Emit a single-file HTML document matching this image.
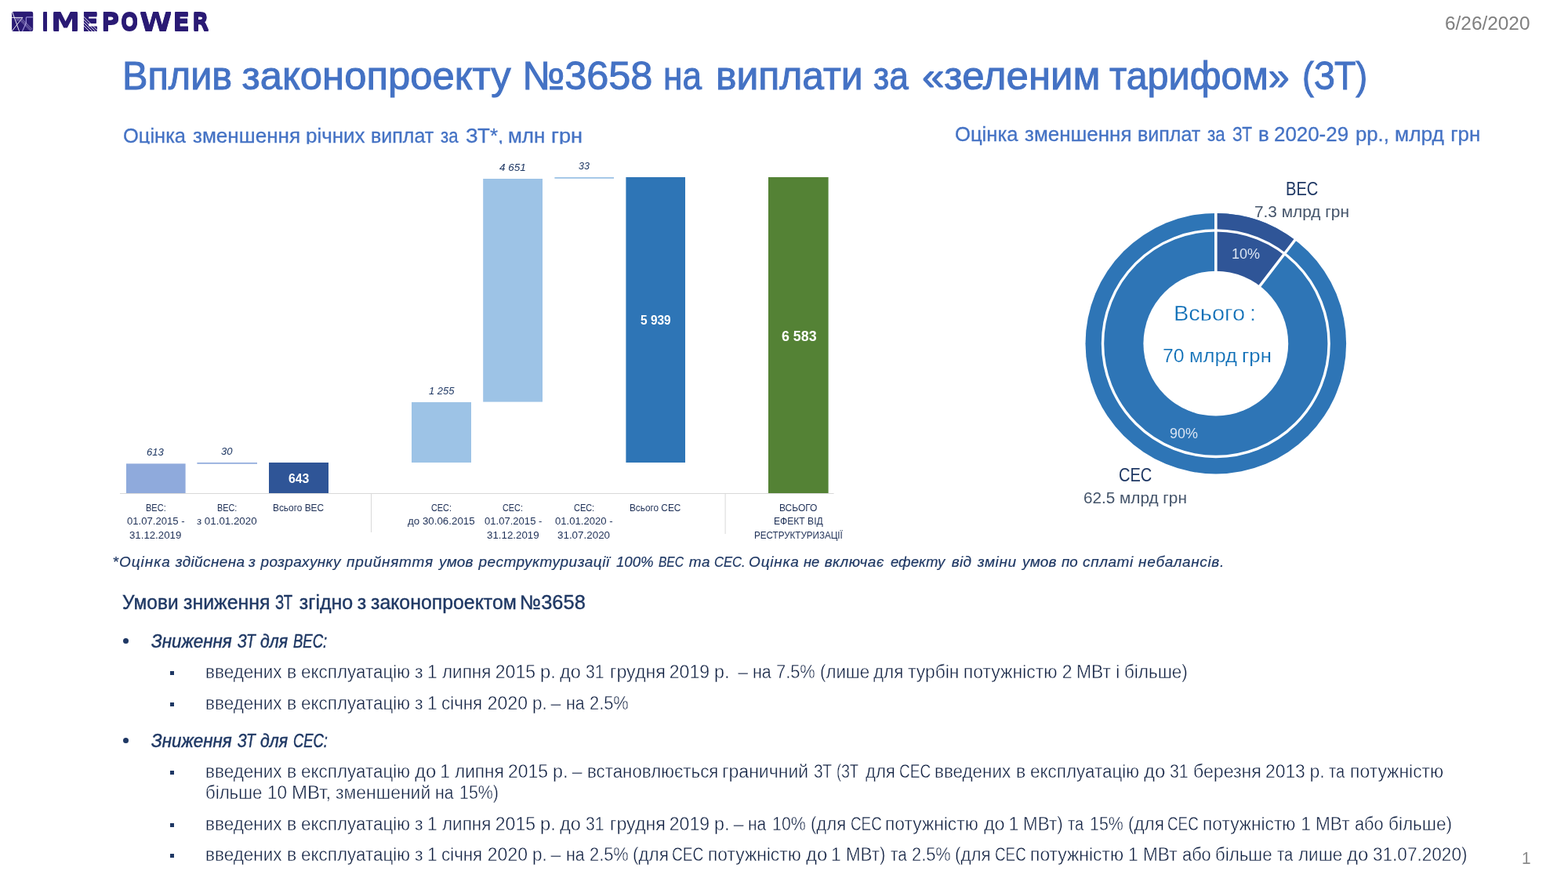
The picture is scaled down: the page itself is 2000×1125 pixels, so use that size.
<!DOCTYPE html>
<html lang="uk">
<head>
<meta charset="utf-8">
<title>Вплив законопроекту №3658 на виплати за «зеленим тарифом» (ЗТ)</title>
<style>
html,body{margin:0;padding:0;background:#fff;}
body{width:2000px;height:1125px;position:relative;overflow:hidden;font-family:"Liberation Sans",sans-serif;}
.t{position:absolute;white-space:pre;transform-origin:0 0;display:block;}
.r{position:absolute;display:block;}
h1,h2,h3,p,section,header,footer,div{margin:0;padding:0;font:inherit;}
svg{position:absolute;left:0;top:0;}
</style>
</head>
<body>
<!-- chart + donut shapes -->
<svg width="2000" height="1125" viewBox="0 0 2000 1125">
  <!-- logo mark -->
  <g>
    <rect x="15.1" y="14.7" width="27.1" height="25.3" rx="2.2" fill="#2a1a74"/>
    <g fill="none" stroke-linecap="butt">
      <g stroke="#fff" stroke-width="0.9">
        <path d="M15.6 14.9 L24.6 39.9"/>
        <path d="M15.1 22.4 H28.9"/>
        <path d="M28.9 22.3 L15.6 39.2"/>
      </g>
      <path d="M41.9 21.9 H34.2 Q33.3 21.9 33.3 22.8 V29.3 L28.4 39.9" stroke="#9a8fd8" stroke-width="1.2"/>
      <g stroke="#cfc8f0" stroke-width="0.45">
        <path d="M27.6 23.4 L41.4 37.2 M26.8 24.2 L40.6 38 M26 25 L39.8 38.8 M25.2 25.8 L39 39.6"/>
        <path d="M20 23.6 H26.5 M20.4 24.8 H25.6 M20.8 26 H24.7"/>
      </g>
    </g>
  </g>
  <!-- bars -->
  <rect x="161" y="591.4" width="75.6" height="37.8" fill="#8faadc"/>
  <rect x="251.4" y="590" width="76.6" height="1.7" fill="#8faadc"/>
  <rect x="343" y="590" width="76" height="39.2" fill="#2f5597"/>
  <rect x="525" y="513" width="76" height="77" fill="#9dc3e6"/>
  <rect x="616.2" y="228" width="75.8" height="284.6" fill="#9dc3e6"/>
  <rect x="707.4" y="226" width="75.6" height="1.8" fill="#9dc3e6"/>
  <rect x="798.4" y="226" width="75.6" height="364" fill="#2e75b6"/>
  <rect x="980" y="226" width="76.6" height="403.2" fill="#548235"/>
  <!-- axis -->
  <rect x="153" y="629" width="910.6" height="1" fill="#d9d9d9"/>
  <rect x="473" y="629.5" width="1" height="49.5" fill="#d9d9d9"/>
  <rect x="924.6" y="629.5" width="1" height="51.5" fill="#d9d9d9"/>
  <!-- donut -->
  <g transform="translate(1550.8 438.2)">
    <circle r="166.3" fill="#2e75b6"/>
    <path d="M0 0 L0 -166.3 A166.3 166.3 0 0 1 101.01 -132.11 Z" fill="#2f5597"/>
    <circle r="144.3" fill="none" stroke="#fff" stroke-width="3.4"/>
    <path d="M0 0 L0 -168 M0 0 L102.04 -133.46" stroke="#fff" stroke-width="3.6" fill="none"/>
    <circle r="92.4" fill="#fff"/>
  </g>
</svg>
<header><div class="logo"><span class="t lg" style="left:53.38px;top:9.40px;font-size:32.4px;line-height:38.00px;color:#2a1a74;font-family:'DejaVu Sans', sans-serif;font-weight:bold;transform:scaleX(0.7625);text-shadow:0 1px 0 #2a1a74,0 -1px 0 #2a1a74">I</span><span class="t lg" style="left:65.20px;top:9.40px;font-size:32.4px;line-height:38.00px;color:#2a1a74;font-family:'DejaVu Sans', sans-serif;font-weight:bold;transform:scaleX(1.1518);text-shadow:0 1px 0 #2a1a74,0 -1px 0 #2a1a74">M</span><span class="t lg" style="left:104.00px;top:9.40px;font-size:32.4px;line-height:38.00px;color:#2a1a74;font-family:'DejaVu Sans', sans-serif;font-weight:bold;text-shadow:0 1px 0 #2a1a74,0 -1px 0 #2a1a74">E</span><span class="t lg" style="left:128.78px;top:9.40px;font-size:32.4px;line-height:38.00px;color:#2a1a74;font-family:'DejaVu Sans', sans-serif;font-weight:bold;transform:scaleX(0.9833);text-shadow:0 1px 0 #2a1a74,0 -1px 0 #2a1a74">P</span><span class="t lg" style="left:154.29px;top:9.40px;font-size:32.4px;line-height:38.00px;color:#2a1a74;font-family:'DejaVu Sans', sans-serif;font-weight:bold;transform:scaleX(0.8120);text-shadow:0 1px 0 #2a1a74,0 -1px 0 #2a1a74">O</span><span class="t lg" style="left:178.40px;top:9.40px;font-size:32.4px;line-height:38.00px;color:#2a1a74;font-family:'DejaVu Sans', sans-serif;font-weight:bold;transform:scaleX(1.1571);text-shadow:0 1px 0 #2a1a74,0 -1px 0 #2a1a74">W</span><span class="t lg" style="left:220.30px;top:9.40px;font-size:32.4px;line-height:38.00px;color:#2a1a74;font-family:'DejaVu Sans', sans-serif;font-weight:bold;text-shadow:0 1px 0 #2a1a74,0 -1px 0 #2a1a74">E</span><span class="t lg" style="left:245.27px;top:9.40px;font-size:32.4px;line-height:38.00px;color:#2a1a74;font-family:'DejaVu Sans', sans-serif;font-weight:bold;transform:scaleX(0.8652);text-shadow:0 1px 0 #2a1a74,0 -1px 0 #2a1a74">R</span></div><div class="date"><span class="t" style="left:1843.45px;top:17.00px;font-size:23.3px;line-height:26.00px;color:#7f7f7f;transform:scaleX(1.0469)">6/26/2020</span></div></header>
<h1 class="title"><span class="t" style="left:155.67px;top:68.20px;font-size:50.8px;line-height:57.00px;color:#4472c4;-webkit-text-stroke:1px #4472c4;transform:scaleX(0.9572)">Вплив </span><span class="t" style="left:308.50px;top:68.20px;font-size:50.8px;line-height:57.00px;color:#4472c4;-webkit-text-stroke:1px #4472c4">законопроекту </span><span class="t" style="left:665.93px;top:68.20px;font-size:50.8px;line-height:57.00px;color:#4472c4;-webkit-text-stroke:1px #4472c4;transform:scaleX(0.9936)">№3658 </span><span class="t" style="left:846.49px;top:68.20px;font-size:50.8px;line-height:57.00px;color:#4472c4;-webkit-text-stroke:1px #4472c4;transform:scaleX(0.8695)">на </span><span class="t" style="left:913.16px;top:68.20px;font-size:50.8px;line-height:57.00px;color:#4472c4;-webkit-text-stroke:1px #4472c4;transform:scaleX(0.9810)">виплати </span><span class="t" style="left:1114.03px;top:68.20px;font-size:50.8px;line-height:57.00px;color:#4472c4;-webkit-text-stroke:1px #4472c4;transform:scaleX(0.8696)">за </span><span class="t" style="left:1176.49px;top:68.20px;font-size:50.8px;line-height:57.00px;color:#4472c4;-webkit-text-stroke:1px #4472c4;transform:scaleX(1.0034)">«зеленим </span><span class="t" style="left:1414.90px;top:68.20px;font-size:50.8px;line-height:57.00px;color:#4472c4;-webkit-text-stroke:1px #4472c4;transform:scaleX(0.9543)">тарифом» </span><span class="t" style="left:1660.86px;top:68.20px;font-size:50.8px;line-height:57.00px;color:#4472c4;-webkit-text-stroke:1px #4472c4;transform:scaleX(0.8813)">(ЗТ)</span></h1>
<section class="chart"><h2 class="chart-title"><span class="t" style="left:157.16px;top:159.30px;font-size:25.8px;line-height:28.00px;color:#4472c4;-webkit-text-stroke:0.3px #4472c4;transform:scaleX(0.9880);clip-path:inset(0 0 3.5px 0)">Оцінка </span><span class="t" style="left:245.75px;top:159.30px;font-size:25.8px;line-height:28.00px;color:#4472c4;-webkit-text-stroke:0.3px #4472c4;transform:scaleX(1.0105);clip-path:inset(0 0 3.5px 0)">зменшення </span><span class="t" style="left:389.74px;top:159.30px;font-size:25.8px;line-height:28.00px;color:#4472c4;-webkit-text-stroke:0.3px #4472c4;transform:scaleX(1.0071);clip-path:inset(0 0 3.5px 0)">річних </span><span class="t" style="left:472.78px;top:159.30px;font-size:25.8px;line-height:28.00px;color:#4472c4;-webkit-text-stroke:0.3px #4472c4;transform:scaleX(0.9705);clip-path:inset(0 0 3.5px 0)">виплат </span><span class="t" style="left:561.75px;top:159.30px;font-size:25.8px;line-height:28.00px;color:#4472c4;-webkit-text-stroke:0.3px #4472c4;transform:scaleX(0.8610);clip-path:inset(0 0 3.5px 0)">за </span><span class="t" style="left:593.75px;top:159.30px;font-size:25.8px;line-height:28.00px;color:#4472c4;-webkit-text-stroke:0.3px #4472c4;transform:scaleX(1.0063);clip-path:inset(0 0 3.5px 0)">ЗТ*, </span><span class="t" style="left:648.14px;top:159.30px;font-size:25.8px;line-height:28.00px;color:#4472c4;-webkit-text-stroke:0.3px #4472c4;transform:scaleX(1.0070);clip-path:inset(0 0 3.5px 0)">млн </span><span class="t" style="left:703.10px;top:159.30px;font-size:25.8px;line-height:28.00px;color:#4472c4;-webkit-text-stroke:0.3px #4472c4;transform:scaleX(1.0544);clip-path:inset(0 0 3.5px 0)">грн</span></h2><div class="bar-values"><span class="t" style="left:187.00px;top:569.00px;font-size:13.4px;line-height:15.00px;color:#1f3864;font-style:italic;transform:scaleX(0.9784)">613</span><span class="t" style="left:282.40px;top:568.00px;font-size:13.4px;line-height:15.00px;color:#1f3864;font-style:italic;transform:scaleX(0.9710)">30</span><span class="t" style="left:546.50px;top:491.00px;font-size:13.4px;line-height:15.00px;color:#1f3864;font-style:italic;transform:scaleX(0.9688)">1 255</span><span class="t" style="left:636.60px;top:206.00px;font-size:13.4px;line-height:15.00px;color:#1f3864;font-style:italic;transform:scaleX(1.0102)">4 651</span><span class="t" style="left:738.00px;top:204.00px;font-size:13.4px;line-height:15.00px;color:#1f3864;font-style:italic;transform:scaleX(0.9322)">33</span><span class="t" style="left:367.80px;top:601.00px;font-size:16.8px;line-height:19.00px;color:#ffffff;font-weight:bold;transform:scaleX(0.9398)">643</span><span class="t" style="left:816.90px;top:399.30px;font-size:16.8px;line-height:19.00px;color:#ffffff;font-weight:bold;transform:scaleX(0.9217)">5 939</span><span class="t" style="left:996.70px;top:418.00px;font-size:18.6px;line-height:21.00px;color:#ffffff;font-weight:bold;transform:scaleX(0.9569)">6 583</span></div><div class="bar-categories"><span class="t" style="left:186.00px;top:641.00px;font-size:12px;line-height:14.00px;color:#1d2f56;transform:scaleX(0.9178)">ВЕС:</span><span class="t" style="left:162.40px;top:658.40px;font-size:12px;line-height:14.00px;color:#1d2f56;transform:scaleX(1.0921)">01.07.2015 -</span><span class="t" style="left:165.40px;top:676.00px;font-size:12px;line-height:14.00px;color:#1d2f56;transform:scaleX(1.1029)">31.12.2019</span><span class="t" style="left:277.00px;top:641.00px;font-size:12px;line-height:14.00px;color:#1d2f56;transform:scaleX(0.9034)">ВЕС:</span><span class="t" style="left:251.00px;top:658.40px;font-size:12px;line-height:14.00px;color:#1d2f56;transform:scaleX(1.1124)">з 01.01.2020</span><span class="t" style="left:348.00px;top:641.00px;font-size:12px;line-height:14.00px;color:#1d2f56;transform:scaleX(0.9900)">Всього ВЕС</span><span class="t" style="left:550.00px;top:641.00px;font-size:12px;line-height:14.00px;color:#1d2f56;transform:scaleX(0.9034)">СЕС:</span><span class="t" style="left:520.00px;top:658.40px;font-size:12px;line-height:14.00px;color:#1d2f56;transform:scaleX(1.1112)">до 30.06.2015</span><span class="t" style="left:641.00px;top:641.00px;font-size:12px;line-height:14.00px;color:#1d2f56;transform:scaleX(0.9034)">СЕС:</span><span class="t" style="left:617.60px;top:658.40px;font-size:12px;line-height:14.00px;color:#1d2f56;transform:scaleX(1.0891)">01.07.2015 -</span><span class="t" style="left:620.60px;top:676.00px;font-size:12px;line-height:14.00px;color:#1d2f56;transform:scaleX(1.1096)">31.12.2019</span><span class="t" style="left:731.60px;top:641.00px;font-size:12px;line-height:14.00px;color:#1d2f56;transform:scaleX(0.9105)">СЕС:</span><span class="t" style="left:708.40px;top:658.40px;font-size:12px;line-height:14.00px;color:#1d2f56;transform:scaleX(1.0921)">01.01.2020 -</span><span class="t" style="left:711.00px;top:676.00px;font-size:12px;line-height:14.00px;color:#1d2f56;transform:scaleX(1.1162)">31.07.2020</span><span class="t" style="left:803.40px;top:641.00px;font-size:12px;line-height:14.00px;color:#1d2f56;transform:scaleX(0.9832)">Всього СЕС</span><span class="t" style="left:994.00px;top:641.00px;font-size:12px;line-height:14.00px;color:#1d2f56">ВСЬОГО</span><span class="t" style="left:987.40px;top:658.40px;font-size:12px;line-height:14.00px;color:#1d2f56;transform:scaleX(1.0077)">ЕФЕКТ ВІД</span><span class="t" style="left:962.00px;top:676.00px;font-size:12px;line-height:14.00px;color:#1d2f56;transform:scaleX(0.9692)">РЕСТРУКТУРИЗАЦІЇ</span></div></section>
<section class="donut"><h2 class="donut-title"><span class="t" style="left:1217.76px;top:157.00px;font-size:25.8px;line-height:28.00px;color:#4472c4;-webkit-text-stroke:0.3px #4472c4;transform:scaleX(0.9929)">Оцінка </span><span class="t" style="left:1306.75px;top:157.00px;font-size:25.8px;line-height:28.00px;color:#4472c4;-webkit-text-stroke:0.3px #4472c4;transform:scaleX(1.0060)">зменшення </span><span class="t" style="left:1450.78px;top:157.00px;font-size:25.8px;line-height:28.00px;color:#4472c4;-webkit-text-stroke:0.3px #4472c4;transform:scaleX(0.9705)">виплат </span><span class="t" style="left:1539.55px;top:157.00px;font-size:25.8px;line-height:28.00px;color:#4472c4;-webkit-text-stroke:0.3px #4472c4;transform:scaleX(0.8685)">за </span><span class="t" style="left:1571.65px;top:157.00px;font-size:25.8px;line-height:28.00px;color:#4472c4;-webkit-text-stroke:0.3px #4472c4;transform:scaleX(0.8125)">ЗТ </span><span class="t" style="left:1605.10px;top:157.00px;font-size:25.8px;line-height:28.00px;color:#4472c4;-webkit-text-stroke:0.3px #4472c4">в </span><span class="t" style="left:1625.15px;top:157.00px;font-size:25.8px;line-height:28.00px;color:#4472c4;-webkit-text-stroke:0.3px #4472c4;transform:scaleX(1.0040)">2020-29 </span><span class="t" style="left:1729.15px;top:157.00px;font-size:25.8px;line-height:28.00px;color:#4472c4;-webkit-text-stroke:0.3px #4472c4;transform:scaleX(0.9960)">рр., </span><span class="t" style="left:1778.53px;top:157.00px;font-size:25.8px;line-height:28.00px;color:#4472c4;-webkit-text-stroke:0.3px #4472c4;transform:scaleX(1.0224)">млрд </span><span class="t" style="left:1850.15px;top:157.00px;font-size:25.8px;line-height:28.00px;color:#4472c4;-webkit-text-stroke:0.3px #4472c4">грн</span></h2><div class="donut-labels"><span class="t" style="left:1639.73px;top:228.00px;font-size:23.2px;line-height:26.00px;color:#1f3864;transform:scaleX(0.8665)">ВЕС</span><span class="t" style="left:1599.93px;top:259.00px;font-size:19.5px;line-height:22.00px;color:#44546a;transform:scaleX(1.0676)">7.3 млрд грн</span><span class="t" style="left:1570.53px;top:313.40px;font-size:18.5px;line-height:21.00px;color:#dbe5f3;transform:scaleX(0.9725)">10%</span><span class="t" style="left:1497.48px;top:384.90px;font-size:27.0px;line-height:30.00px;color:#0b6db6;-webkit-text-stroke:0.35px #fff;transform:scaleX(1.0733)">Всього </span><span class="t" style="left:1594.25px;top:384.90px;font-size:27.0px;line-height:30.00px;color:#0b6db6;-webkit-text-stroke:0.35px #fff">:</span><span class="t" style="left:1483.04px;top:441.00px;font-size:23.4px;line-height:26.00px;color:#0b6db6;-webkit-text-stroke:0.2px #fff;transform:scaleX(1.0556)">70 </span><span class="t" style="left:1517.21px;top:441.00px;font-size:23.4px;line-height:26.00px;color:#0b6db6;-webkit-text-stroke:0.2px #fff;transform:scaleX(1.0906)">млрд </span><span class="t" style="left:1584.40px;top:441.00px;font-size:23.4px;line-height:26.00px;color:#0b6db6;-webkit-text-stroke:0.2px #fff;transform:scaleX(1.0971)">грн</span><span class="t" style="left:1491.60px;top:542.00px;font-size:18.5px;line-height:21.00px;color:#dbe5f3;transform:scaleX(0.9678)">90%</span><span class="t" style="left:1426.74px;top:593.00px;font-size:23.2px;line-height:26.00px;color:#1f3864;transform:scaleX(0.8642)">СЕС</span><span class="t" style="left:1382.00px;top:624.00px;font-size:19.5px;line-height:22.00px;color:#44546a;transform:scaleX(1.0624)">62.5 млрд грн</span></div></section>
<p class="footnote"><span class="t" style="left:143.50px;top:706.10px;font-size:19.0px;line-height:21.00px;color:#1f3864;font-style:italic;-webkit-text-stroke:0.2px #1f3864;letter-spacing:1.019px">*Оцінка </span><span class="t" style="left:223.70px;top:706.10px;font-size:19.0px;line-height:21.00px;color:#1f3864;font-style:italic;-webkit-text-stroke:0.2px #1f3864;letter-spacing:0.364px">здійснена </span><span class="t" style="left:317.00px;top:706.10px;font-size:19.0px;line-height:21.00px;color:#1f3864;font-style:italic;-webkit-text-stroke:0.2px #1f3864">з </span><span class="t" style="left:332.50px;top:706.10px;font-size:19.0px;line-height:21.00px;color:#1f3864;font-style:italic;-webkit-text-stroke:0.2px #1f3864;letter-spacing:0.343px">розрахунку </span><span class="t" style="left:442.10px;top:706.10px;font-size:19.0px;line-height:21.00px;color:#1f3864;font-style:italic;-webkit-text-stroke:0.2px #1f3864;letter-spacing:0.700px">прийняття </span><span class="t" style="left:560.10px;top:706.10px;font-size:19.0px;line-height:21.00px;color:#1f3864;font-style:italic;-webkit-text-stroke:0.2px #1f3864;letter-spacing:0.103px">умов </span><span class="t" style="left:610.50px;top:706.10px;font-size:19.0px;line-height:21.00px;color:#1f3864;font-style:italic;-webkit-text-stroke:0.2px #1f3864;letter-spacing:0.495px">реструктуризації </span><span class="t" style="left:786.10px;top:706.10px;font-size:19.0px;line-height:21.00px;color:#1f3864;font-style:italic;-webkit-text-stroke:0.2px #1f3864;transform:scaleX(0.9815)">100% </span><span class="t" style="left:840.10px;top:706.10px;font-size:19.0px;line-height:21.00px;color:#1f3864;font-style:italic;-webkit-text-stroke:0.2px #1f3864;transform:scaleX(0.8184)">ВЕС </span><span class="t" style="left:878.70px;top:706.10px;font-size:19.0px;line-height:21.00px;color:#1f3864;font-style:italic;-webkit-text-stroke:0.2px #1f3864;letter-spacing:0.586px">та </span><span class="t" style="left:911.23px;top:706.10px;font-size:19.0px;line-height:21.00px;color:#1f3864;font-style:italic;-webkit-text-stroke:0.2px #1f3864;transform:scaleX(0.8738)">СЕС. </span><span class="t" style="left:955.10px;top:706.10px;font-size:19.0px;line-height:21.00px;color:#1f3864;font-style:italic;-webkit-text-stroke:0.2px #1f3864;letter-spacing:0.782px">Оцінка </span><span class="t" style="left:1025.10px;top:706.10px;font-size:19.0px;line-height:21.00px;color:#1f3864;font-style:italic;-webkit-text-stroke:0.2px #1f3864;transform:scaleX(0.9680)">не </span><span class="t" style="left:1051.70px;top:706.10px;font-size:19.0px;line-height:21.00px;color:#1f3864;font-style:italic;-webkit-text-stroke:0.2px #1f3864;letter-spacing:0.460px">включає </span><span class="t" style="left:1136.10px;top:706.10px;font-size:19.0px;line-height:21.00px;color:#1f3864;font-style:italic;-webkit-text-stroke:0.2px #1f3864;transform:scaleX(0.9752)">ефекту </span><span class="t" style="left:1213.70px;top:706.10px;font-size:19.0px;line-height:21.00px;color:#1f3864;font-style:italic;-webkit-text-stroke:0.2px #1f3864;letter-spacing:0.331px">від </span><span class="t" style="left:1246.70px;top:706.10px;font-size:19.0px;line-height:21.00px;color:#1f3864;font-style:italic;-webkit-text-stroke:0.2px #1f3864;letter-spacing:0.620px">зміни </span><span class="t" style="left:1304.10px;top:706.10px;font-size:19.0px;line-height:21.00px;color:#1f3864;font-style:italic;-webkit-text-stroke:0.2px #1f3864;letter-spacing:0.103px">умов </span><span class="t" style="left:1354.10px;top:706.10px;font-size:19.0px;line-height:21.00px;color:#1f3864;font-style:italic;-webkit-text-stroke:0.2px #1f3864;transform:scaleX(0.9875)">по </span><span class="t" style="left:1381.10px;top:706.10px;font-size:19.0px;line-height:21.00px;color:#1f3864;font-style:italic;-webkit-text-stroke:0.2px #1f3864;letter-spacing:0.547px">сплаті </span><span class="t" style="left:1452.10px;top:706.10px;font-size:19.0px;line-height:21.00px;color:#1f3864;font-style:italic;-webkit-text-stroke:0.2px #1f3864;letter-spacing:0.636px">небалансів.</span></p>
<section class="conditions"><h3 class="conditions-title"><span class="t" style="left:156.20px;top:754.30px;font-size:25px;line-height:28.00px;color:#1f3864;-webkit-text-stroke:0.4px #1f3864;transform:scaleX(0.9788)">Умови </span><span class="t" style="left:233.80px;top:754.30px;font-size:25px;line-height:28.00px;color:#1f3864;-webkit-text-stroke:0.4px #1f3864;transform:scaleX(0.9957)">зниження </span><span class="t" style="left:350.80px;top:754.30px;font-size:25px;line-height:28.00px;color:#1f3864;-webkit-text-stroke:0.4px #1f3864;transform:scaleX(0.7445)">ЗТ </span><span class="t" style="left:381.80px;top:754.30px;font-size:25px;line-height:28.00px;color:#1f3864;-webkit-text-stroke:0.4px #1f3864">згідно </span><span class="t" style="left:455.80px;top:754.30px;font-size:25px;line-height:28.00px;color:#1f3864;-webkit-text-stroke:0.4px #1f3864">з </span><span class="t" style="left:473.20px;top:754.30px;font-size:25px;line-height:28.00px;color:#1f3864;-webkit-text-stroke:0.4px #1f3864;transform:scaleX(0.9939)">законопроектом </span><span class="t" style="left:662.57px;top:754.30px;font-size:25px;line-height:28.00px;color:#1f3864;-webkit-text-stroke:0.4px #1f3864;transform:scaleX(1.0160)">№3658</span></h3><p class="lvl1"><i class="r" style="left:157px;top:814.0px;width:7px;height:7px;border-radius:50%;background:#1f3864"></i><span class="t" style="left:193.25px;top:804.20px;font-size:24.8px;line-height:27.00px;color:#1f3864;font-style:italic;-webkit-text-stroke:0.5px #1f3864;transform:scaleX(0.9007)">Зниження </span><span class="t" style="left:302.65px;top:804.20px;font-size:24.8px;line-height:27.00px;color:#1f3864;font-style:italic;-webkit-text-stroke:0.5px #1f3864;transform:scaleX(0.7748)">ЗТ </span><span class="t" style="left:331.85px;top:804.20px;font-size:24.8px;line-height:27.00px;color:#1f3864;font-style:italic;-webkit-text-stroke:0.5px #1f3864;transform:scaleX(0.8577)">для </span><span class="t" style="left:374.25px;top:804.20px;font-size:24.8px;line-height:27.00px;color:#1f3864;font-style:italic;-webkit-text-stroke:0.5px #1f3864;transform:scaleX(0.7458)">ВЕС:</span></p><p class="lvl2"><i class="r" style="left:217px;top:855.9px;width:5.2px;height:5.2px;background:#1f3864"></i><span class="t" style="left:262.22px;top:843.80px;font-size:23px;line-height:26.00px;color:#0f1f40;-webkit-text-stroke:0.4px #fff;transform:scaleX(0.9776)">введених </span><span class="t" style="left:366.00px;top:843.80px;font-size:23px;line-height:26.00px;color:#0f1f40;-webkit-text-stroke:0.4px #fff">в </span><span class="t" style="left:383.80px;top:843.80px;font-size:23px;line-height:26.00px;color:#0f1f40;-webkit-text-stroke:0.4px #fff;transform:scaleX(0.9750)">експлуатацію </span><span class="t" style="left:529.00px;top:843.80px;font-size:23px;line-height:26.00px;color:#0f1f40;-webkit-text-stroke:0.4px #fff">з </span><span class="t" style="left:545.00px;top:843.80px;font-size:23px;line-height:26.00px;color:#0f1f40;-webkit-text-stroke:0.4px #fff">1 </span><span class="t" style="left:564.20px;top:843.80px;font-size:23px;line-height:26.00px;color:#0f1f40;-webkit-text-stroke:0.4px #fff;transform:scaleX(0.9772)">липня </span><span class="t" style="left:631.80px;top:843.80px;font-size:23px;line-height:26.00px;color:#0f1f40;-webkit-text-stroke:0.4px #fff">2015 </span><span class="t" style="left:688.76px;top:843.80px;font-size:23px;line-height:26.00px;color:#0f1f40;-webkit-text-stroke:0.4px #fff;transform:scaleX(1.0362)">р. </span><span class="t" style="left:714.20px;top:843.80px;font-size:23px;line-height:26.00px;color:#0f1f40;-webkit-text-stroke:0.4px #fff;transform:scaleX(1.0228)">до </span><span class="t" style="left:747.40px;top:843.80px;font-size:23px;line-height:26.00px;color:#0f1f40;-webkit-text-stroke:0.4px #fff;transform:scaleX(0.9197)">31 </span><span class="t" style="left:777.79px;top:843.80px;font-size:23px;line-height:26.00px;color:#0f1f40;-webkit-text-stroke:0.4px #fff;transform:scaleX(1.0091)">грудня </span><span class="t" style="left:853.80px;top:843.80px;font-size:23px;line-height:26.00px;color:#0f1f40;-webkit-text-stroke:0.4px #fff">2019 </span><span class="t" style="left:911.19px;top:843.80px;font-size:23px;line-height:26.00px;color:#0f1f40;-webkit-text-stroke:0.4px #fff;transform:scaleX(1.0124)">р.  </span><span class="t" style="left:941.30px;top:843.80px;font-size:23px;line-height:26.00px;color:#0f1f40;-webkit-text-stroke:0.4px #fff">– </span><span class="t" style="left:959.87px;top:843.80px;font-size:23px;line-height:26.00px;color:#0f1f40;-webkit-text-stroke:0.4px #fff;transform:scaleX(0.9311)">на </span><span class="t" style="left:989.85px;top:843.80px;font-size:23px;line-height:26.00px;color:#0f1f40;-webkit-text-stroke:0.4px #fff;transform:scaleX(0.9495)">7.5% </span><span class="t" style="left:1045.83px;top:843.80px;font-size:23px;line-height:26.00px;color:#0f1f40;-webkit-text-stroke:0.4px #fff;transform:scaleX(0.9688)">(лише </span><span class="t" style="left:1114.20px;top:843.80px;font-size:23px;line-height:26.00px;color:#0f1f40;-webkit-text-stroke:0.4px #fff;transform:scaleX(0.9778)">для </span><span class="t" style="left:1157.80px;top:843.80px;font-size:23px;line-height:26.00px;color:#0f1f40;-webkit-text-stroke:0.4px #fff;transform:scaleX(0.9953)">турбін </span><span class="t" style="left:1228.80px;top:843.80px;font-size:23px;line-height:26.00px;color:#0f1f40;-webkit-text-stroke:0.4px #fff">потужністю </span><span class="t" style="left:1354.70px;top:843.80px;font-size:23px;line-height:26.00px;color:#0f1f40;-webkit-text-stroke:0.4px #fff">2 </span><span class="t" style="left:1372.81px;top:843.80px;font-size:23px;line-height:26.00px;color:#0f1f40;-webkit-text-stroke:0.4px #fff;transform:scaleX(0.9923)">МВт </span><span class="t" style="left:1423.20px;top:843.80px;font-size:23px;line-height:26.00px;color:#0f1f40;-webkit-text-stroke:0.4px #fff">і </span><span class="t" style="left:1433.82px;top:843.80px;font-size:23px;line-height:26.00px;color:#0f1f40;-webkit-text-stroke:0.4px #fff;transform:scaleX(0.9762)">більше)</span></p><p class="lvl2"><i class="r" style="left:217px;top:895.9px;width:5.2px;height:5.2px;background:#1f3864"></i><span class="t" style="left:262.22px;top:883.80px;font-size:23px;line-height:26.00px;color:#0f1f40;-webkit-text-stroke:0.4px #fff;transform:scaleX(0.9776)">введених </span><span class="t" style="left:366.00px;top:883.80px;font-size:23px;line-height:26.00px;color:#0f1f40;-webkit-text-stroke:0.4px #fff">в </span><span class="t" style="left:383.80px;top:883.80px;font-size:23px;line-height:26.00px;color:#0f1f40;-webkit-text-stroke:0.4px #fff;transform:scaleX(0.9750)">експлуатацію </span><span class="t" style="left:529.00px;top:883.80px;font-size:23px;line-height:26.00px;color:#0f1f40;-webkit-text-stroke:0.4px #fff">з </span><span class="t" style="left:545.00px;top:883.80px;font-size:23px;line-height:26.00px;color:#0f1f40;-webkit-text-stroke:0.4px #fff">1 </span><span class="t" style="left:563.40px;top:883.80px;font-size:23px;line-height:26.00px;color:#0f1f40;-webkit-text-stroke:0.4px #fff;transform:scaleX(0.9714)">січня </span><span class="t" style="left:621.80px;top:883.80px;font-size:23px;line-height:26.00px;color:#0f1f40;-webkit-text-stroke:0.4px #fff">2020 </span><span class="t" style="left:678.82px;top:883.80px;font-size:23px;line-height:26.00px;color:#0f1f40;-webkit-text-stroke:0.4px #fff;transform:scaleX(0.9767)">р. </span><span class="t" style="left:702.50px;top:883.80px;font-size:23px;line-height:26.00px;color:#0f1f40;-webkit-text-stroke:0.4px #fff">– </span><span class="t" style="left:721.87px;top:883.80px;font-size:23px;line-height:26.00px;color:#0f1f40;-webkit-text-stroke:0.4px #fff;transform:scaleX(0.9311)">на </span><span class="t" style="left:751.85px;top:883.80px;font-size:23px;line-height:26.00px;color:#0f1f40;-webkit-text-stroke:0.4px #fff;transform:scaleX(0.9495)">2.5%</span></p><p class="lvl1"><i class="r" style="left:157px;top:941.0px;width:7px;height:7px;border-radius:50%;background:#1f3864"></i><span class="t" style="left:193.25px;top:931.30px;font-size:24.8px;line-height:27.00px;color:#1f3864;font-style:italic;-webkit-text-stroke:0.5px #1f3864;transform:scaleX(0.9007)">Зниження </span><span class="t" style="left:302.65px;top:931.30px;font-size:24.8px;line-height:27.00px;color:#1f3864;font-style:italic;-webkit-text-stroke:0.5px #1f3864;transform:scaleX(0.7748)">ЗТ </span><span class="t" style="left:331.85px;top:931.30px;font-size:24.8px;line-height:27.00px;color:#1f3864;font-style:italic;-webkit-text-stroke:0.5px #1f3864;transform:scaleX(0.8577)">для </span><span class="t" style="left:373.51px;top:931.30px;font-size:24.8px;line-height:27.00px;color:#1f3864;font-style:italic;-webkit-text-stroke:0.5px #1f3864;transform:scaleX(0.7410)">СЕС:</span></p><p class="lvl2"><i class="r" style="left:217px;top:983.0px;width:5.2px;height:5.2px;background:#1f3864"></i><span class="t" style="left:262.22px;top:970.90px;font-size:23px;line-height:26.00px;color:#0f1f40;-webkit-text-stroke:0.4px #fff;transform:scaleX(0.9776)">введених </span><span class="t" style="left:366.00px;top:970.90px;font-size:23px;line-height:26.00px;color:#0f1f40;-webkit-text-stroke:0.4px #fff">в </span><span class="t" style="left:383.80px;top:970.90px;font-size:23px;line-height:26.00px;color:#0f1f40;-webkit-text-stroke:0.4px #fff;transform:scaleX(0.9750)">експлуатацію </span><span class="t" style="left:529.40px;top:970.90px;font-size:23px;line-height:26.00px;color:#0f1f40;-webkit-text-stroke:0.4px #fff;transform:scaleX(1.0385)">до </span><span class="t" style="left:561.20px;top:970.90px;font-size:23px;line-height:26.00px;color:#0f1f40;-webkit-text-stroke:0.4px #fff">1 </span><span class="t" style="left:580.20px;top:970.90px;font-size:23px;line-height:26.00px;color:#0f1f40;-webkit-text-stroke:0.4px #fff;transform:scaleX(0.9836)">липня </span><span class="t" style="left:648.40px;top:970.90px;font-size:23px;line-height:26.00px;color:#0f1f40;-webkit-text-stroke:0.4px #fff;transform:scaleX(0.9965)">2015 </span><span class="t" style="left:705.19px;top:970.90px;font-size:23px;line-height:26.00px;color:#0f1f40;-webkit-text-stroke:0.4px #fff;transform:scaleX(1.0124)">р. </span><span class="t" style="left:729.70px;top:970.90px;font-size:23px;line-height:26.00px;color:#0f1f40;-webkit-text-stroke:0.4px #fff">– </span><span class="t" style="left:748.83px;top:970.90px;font-size:23px;line-height:26.00px;color:#0f1f40;-webkit-text-stroke:0.4px #fff;transform:scaleX(0.9698)">встановлюється </span><span class="t" style="left:921.20px;top:970.90px;font-size:23px;line-height:26.00px;color:#0f1f40;-webkit-text-stroke:0.4px #fff">граничний </span><span class="t" style="left:1038.20px;top:970.90px;font-size:23px;line-height:26.00px;color:#0f1f40;-webkit-text-stroke:0.4px #fff;transform:scaleX(0.8398)">ЗТ </span><span class="t" style="left:1067.41px;top:970.90px;font-size:23px;line-height:26.00px;color:#0f1f40;-webkit-text-stroke:0.4px #fff;transform:scaleX(0.7930)">(ЗТ </span><span class="t" style="left:1103.80px;top:970.90px;font-size:23px;line-height:26.00px;color:#0f1f40;-webkit-text-stroke:0.4px #fff;transform:scaleX(0.9619)">для </span><span class="t" style="left:1146.57px;top:970.90px;font-size:23px;line-height:26.00px;color:#0f1f40;-webkit-text-stroke:0.4px #fff;transform:scaleX(0.8264)">СЕС </span><span class="t" style="left:1192.43px;top:970.90px;font-size:23px;line-height:26.00px;color:#0f1f40;-webkit-text-stroke:0.4px #fff;transform:scaleX(0.9735)">введених </span><span class="t" style="left:1296.00px;top:970.90px;font-size:23px;line-height:26.00px;color:#0f1f40;-webkit-text-stroke:0.4px #fff">в </span><span class="t" style="left:1313.80px;top:970.90px;font-size:23px;line-height:26.00px;color:#0f1f40;-webkit-text-stroke:0.4px #fff;transform:scaleX(0.9750)">експлуатацію </span><span class="t" style="left:1458.80px;top:970.90px;font-size:23px;line-height:26.00px;color:#0f1f40;-webkit-text-stroke:0.4px #fff;transform:scaleX(1.0385)">до </span><span class="t" style="left:1492.20px;top:970.90px;font-size:23px;line-height:26.00px;color:#0f1f40;-webkit-text-stroke:0.4px #fff;transform:scaleX(0.9277)">31 </span><span class="t" style="left:1521.80px;top:970.90px;font-size:23px;line-height:26.00px;color:#0f1f40;-webkit-text-stroke:0.4px #fff;transform:scaleX(1.0044)">березня </span><span class="t" style="left:1613.81px;top:970.90px;font-size:23px;line-height:26.00px;color:#0f1f40;-webkit-text-stroke:0.4px #fff;transform:scaleX(0.9924)">2013 </span><span class="t" style="left:1670.40px;top:970.90px;font-size:23px;line-height:26.00px;color:#0f1f40;-webkit-text-stroke:0.4px #fff">р. </span><span class="t" style="left:1695.40px;top:970.90px;font-size:23px;line-height:26.00px;color:#0f1f40;-webkit-text-stroke:0.4px #fff;transform:scaleX(0.8764)">та </span><span class="t" style="left:1722.20px;top:970.90px;font-size:23px;line-height:26.00px;color:#0f1f40;-webkit-text-stroke:0.4px #fff;transform:scaleX(0.9956)">потужністю </span><span class="t" style="left:262.23px;top:997.60px;font-size:23px;line-height:26.00px;color:#0f1f40;-webkit-text-stroke:0.4px #fff;transform:scaleX(0.9653)">більше </span><span class="t" style="left:340.82px;top:997.60px;font-size:23px;line-height:26.00px;color:#0f1f40;-webkit-text-stroke:0.4px #fff;transform:scaleX(0.9835)">10 </span><span class="t" style="left:372.35px;top:997.60px;font-size:23px;line-height:26.00px;color:#0f1f40;-webkit-text-stroke:0.4px #fff;transform:scaleX(1.0455)">МВт, </span><span class="t" style="left:427.80px;top:997.60px;font-size:23px;line-height:26.00px;color:#0f1f40;-webkit-text-stroke:0.4px #fff;transform:scaleX(0.9980)">зменшений </span><span class="t" style="left:554.88px;top:997.60px;font-size:23px;line-height:26.00px;color:#0f1f40;-webkit-text-stroke:0.4px #fff;transform:scaleX(0.9230)">на </span><span class="t" style="left:586.47px;top:997.60px;font-size:23px;line-height:26.00px;color:#0f1f40;-webkit-text-stroke:0.4px #fff;transform:scaleX(0.9302)">15%)</span></p><p class="lvl2"><i class="r" style="left:217px;top:1050.0px;width:5.2px;height:5.2px;background:#1f3864"></i><span class="t" style="left:262.22px;top:1037.90px;font-size:23px;line-height:26.00px;color:#0f1f40;-webkit-text-stroke:0.4px #fff;transform:scaleX(0.9776)">введених </span><span class="t" style="left:366.00px;top:1037.90px;font-size:23px;line-height:26.00px;color:#0f1f40;-webkit-text-stroke:0.4px #fff">в </span><span class="t" style="left:383.80px;top:1037.90px;font-size:23px;line-height:26.00px;color:#0f1f40;-webkit-text-stroke:0.4px #fff;transform:scaleX(0.9750)">експлуатацію </span><span class="t" style="left:529.00px;top:1037.90px;font-size:23px;line-height:26.00px;color:#0f1f40;-webkit-text-stroke:0.4px #fff">з </span><span class="t" style="left:545.00px;top:1037.90px;font-size:23px;line-height:26.00px;color:#0f1f40;-webkit-text-stroke:0.4px #fff">1 </span><span class="t" style="left:564.20px;top:1037.90px;font-size:23px;line-height:26.00px;color:#0f1f40;-webkit-text-stroke:0.4px #fff;transform:scaleX(0.9772)">липня </span><span class="t" style="left:631.80px;top:1037.90px;font-size:23px;line-height:26.00px;color:#0f1f40;-webkit-text-stroke:0.4px #fff">2015 </span><span class="t" style="left:688.76px;top:1037.90px;font-size:23px;line-height:26.00px;color:#0f1f40;-webkit-text-stroke:0.4px #fff;transform:scaleX(1.0362)">р. </span><span class="t" style="left:714.20px;top:1037.90px;font-size:23px;line-height:26.00px;color:#0f1f40;-webkit-text-stroke:0.4px #fff;transform:scaleX(1.0228)">до </span><span class="t" style="left:747.40px;top:1037.90px;font-size:23px;line-height:26.00px;color:#0f1f40;-webkit-text-stroke:0.4px #fff;transform:scaleX(0.9197)">31 </span><span class="t" style="left:777.79px;top:1037.90px;font-size:23px;line-height:26.00px;color:#0f1f40;-webkit-text-stroke:0.4px #fff;transform:scaleX(1.0091)">грудня </span><span class="t" style="left:853.80px;top:1037.90px;font-size:23px;line-height:26.00px;color:#0f1f40;-webkit-text-stroke:0.4px #fff">2019 </span><span class="t" style="left:911.19px;top:1037.90px;font-size:23px;line-height:26.00px;color:#0f1f40;-webkit-text-stroke:0.4px #fff;transform:scaleX(1.0124)">р. </span><span class="t" style="left:935.70px;top:1037.90px;font-size:23px;line-height:26.00px;color:#0f1f40;-webkit-text-stroke:0.4px #fff">– </span><span class="t" style="left:954.49px;top:1037.90px;font-size:23px;line-height:26.00px;color:#0f1f40;-webkit-text-stroke:0.4px #fff;transform:scaleX(0.9068)">на </span><span class="t" style="left:984.87px;top:1037.90px;font-size:23px;line-height:26.00px;color:#0f1f40;-webkit-text-stroke:0.4px #fff;transform:scaleX(0.9286)">10% </span><span class="t" style="left:1034.44px;top:1037.90px;font-size:23px;line-height:26.00px;color:#0f1f40;-webkit-text-stroke:0.4px #fff;transform:scaleX(0.9618)">(для </span><span class="t" style="left:1084.58px;top:1037.90px;font-size:23px;line-height:26.00px;color:#0f1f40;-webkit-text-stroke:0.4px #fff;transform:scaleX(0.8179)">СЕС </span><span class="t" style="left:1129.21px;top:1037.90px;font-size:23px;line-height:26.00px;color:#0f1f40;-webkit-text-stroke:0.4px #fff;transform:scaleX(0.9922)">потужністю </span><span class="t" style="left:1254.80px;top:1037.90px;font-size:23px;line-height:26.00px;color:#0f1f40;-webkit-text-stroke:0.4px #fff;transform:scaleX(1.0149)">до </span><span class="t" style="left:1286.40px;top:1037.90px;font-size:23px;line-height:26.00px;color:#0f1f40;-webkit-text-stroke:0.4px #fff">1 </span><span class="t" style="left:1305.23px;top:1037.90px;font-size:23px;line-height:26.00px;color:#0f1f40;-webkit-text-stroke:0.4px #fff;transform:scaleX(0.9747)">МВт) </span><span class="t" style="left:1362.20px;top:1037.90px;font-size:23px;line-height:26.00px;color:#0f1f40;-webkit-text-stroke:0.4px #fff;transform:scaleX(0.8764)">та </span><span class="t" style="left:1389.87px;top:1037.90px;font-size:23px;line-height:26.00px;color:#0f1f40;-webkit-text-stroke:0.4px #fff;transform:scaleX(0.9286)">15% </span><span class="t" style="left:1438.82px;top:1037.90px;font-size:23px;line-height:26.00px;color:#0f1f40;-webkit-text-stroke:0.4px #fff;transform:scaleX(0.9753)">(для </span><span class="t" style="left:1489.38px;top:1037.90px;font-size:23px;line-height:26.00px;color:#0f1f40;-webkit-text-stroke:0.4px #fff;transform:scaleX(0.8179)">СЕС </span><span class="t" style="left:1534.41px;top:1037.90px;font-size:23px;line-height:26.00px;color:#0f1f40;-webkit-text-stroke:0.4px #fff;transform:scaleX(0.9888)">потужністю </span><span class="t" style="left:1659.20px;top:1037.90px;font-size:23px;line-height:26.00px;color:#0f1f40;-webkit-text-stroke:0.4px #fff">1 </span><span class="t" style="left:1677.82px;top:1037.90px;font-size:23px;line-height:26.00px;color:#0f1f40;-webkit-text-stroke:0.4px #fff;transform:scaleX(0.9832)">МВт </span><span class="t" style="left:1728.40px;top:1037.90px;font-size:23px;line-height:26.00px;color:#0f1f40;-webkit-text-stroke:0.4px #fff;transform:scaleX(0.9430)">або </span><span class="t" style="left:1770.82px;top:1037.90px;font-size:23px;line-height:26.00px;color:#0f1f40;-webkit-text-stroke:0.4px #fff;transform:scaleX(0.9811)">більше)</span></p><p class="lvl2"><i class="r" style="left:217px;top:1089.0px;width:5.2px;height:5.2px;background:#1f3864"></i><span class="t" style="left:262.22px;top:1076.90px;font-size:23px;line-height:26.00px;color:#0f1f40;-webkit-text-stroke:0.4px #fff;transform:scaleX(0.9776)">введених </span><span class="t" style="left:366.00px;top:1076.90px;font-size:23px;line-height:26.00px;color:#0f1f40;-webkit-text-stroke:0.4px #fff">в </span><span class="t" style="left:383.80px;top:1076.90px;font-size:23px;line-height:26.00px;color:#0f1f40;-webkit-text-stroke:0.4px #fff;transform:scaleX(0.9750)">експлуатацію </span><span class="t" style="left:529.00px;top:1076.90px;font-size:23px;line-height:26.00px;color:#0f1f40;-webkit-text-stroke:0.4px #fff">з </span><span class="t" style="left:545.00px;top:1076.90px;font-size:23px;line-height:26.00px;color:#0f1f40;-webkit-text-stroke:0.4px #fff">1 </span><span class="t" style="left:563.40px;top:1076.90px;font-size:23px;line-height:26.00px;color:#0f1f40;-webkit-text-stroke:0.4px #fff;transform:scaleX(0.9714)">січня </span><span class="t" style="left:621.80px;top:1076.90px;font-size:23px;line-height:26.00px;color:#0f1f40;-webkit-text-stroke:0.4px #fff">2020 </span><span class="t" style="left:678.82px;top:1076.90px;font-size:23px;line-height:26.00px;color:#0f1f40;-webkit-text-stroke:0.4px #fff;transform:scaleX(0.9767)">р. </span><span class="t" style="left:702.50px;top:1076.90px;font-size:23px;line-height:26.00px;color:#0f1f40;-webkit-text-stroke:0.4px #fff">– </span><span class="t" style="left:721.87px;top:1076.90px;font-size:23px;line-height:26.00px;color:#0f1f40;-webkit-text-stroke:0.4px #fff;transform:scaleX(0.9311)">на </span><span class="t" style="left:751.85px;top:1076.90px;font-size:23px;line-height:26.00px;color:#0f1f40;-webkit-text-stroke:0.4px #fff;transform:scaleX(0.9495)">2.5% </span><span class="t" style="left:806.82px;top:1076.90px;font-size:23px;line-height:26.00px;color:#0f1f40;-webkit-text-stroke:0.4px #fff;transform:scaleX(0.9753)">(для </span><span class="t" style="left:857.37px;top:1076.90px;font-size:23px;line-height:26.00px;color:#0f1f40;-webkit-text-stroke:0.4px #fff;transform:scaleX(0.8307)">СЕС </span><span class="t" style="left:903.21px;top:1076.90px;font-size:23px;line-height:26.00px;color:#0f1f40;-webkit-text-stroke:0.4px #fff;transform:scaleX(0.9922)">потужністю </span><span class="t" style="left:1028.20px;top:1076.90px;font-size:23px;line-height:26.00px;color:#0f1f40;-webkit-text-stroke:0.4px #fff;transform:scaleX(1.0385)">до </span><span class="t" style="left:1060.00px;top:1076.90px;font-size:23px;line-height:26.00px;color:#0f1f40;-webkit-text-stroke:0.4px #fff">1 </span><span class="t" style="left:1078.83px;top:1076.90px;font-size:23px;line-height:26.00px;color:#0f1f40;-webkit-text-stroke:0.4px #fff;transform:scaleX(0.9707)">МВт) </span><span class="t" style="left:1135.80px;top:1076.90px;font-size:23px;line-height:26.00px;color:#0f1f40;-webkit-text-stroke:0.4px #fff;transform:scaleX(0.8936)">та </span><span class="t" style="left:1162.85px;top:1076.90px;font-size:23px;line-height:26.00px;color:#0f1f40;-webkit-text-stroke:0.4px #fff;transform:scaleX(0.9495)">2.5% </span><span class="t" style="left:1218.43px;top:1076.90px;font-size:23px;line-height:26.00px;color:#0f1f40;-webkit-text-stroke:0.4px #fff;transform:scaleX(0.9708)">(для </span><span class="t" style="left:1268.98px;top:1076.90px;font-size:23px;line-height:26.00px;color:#0f1f40;-webkit-text-stroke:0.4px #fff;transform:scaleX(0.8179)">СЕС </span><span class="t" style="left:1313.81px;top:1076.90px;font-size:23px;line-height:26.00px;color:#0f1f40;-webkit-text-stroke:0.4px #fff;transform:scaleX(0.9939)">потужністю </span><span class="t" style="left:1439.00px;top:1076.90px;font-size:23px;line-height:26.00px;color:#0f1f40;-webkit-text-stroke:0.4px #fff">1 </span><span class="t" style="left:1457.82px;top:1076.90px;font-size:23px;line-height:26.00px;color:#0f1f40;-webkit-text-stroke:0.4px #fff;transform:scaleX(0.9832)">МВт </span><span class="t" style="left:1507.80px;top:1076.90px;font-size:23px;line-height:26.00px;color:#0f1f40;-webkit-text-stroke:0.4px #fff;transform:scaleX(0.9482)">або </span><span class="t" style="left:1550.43px;top:1076.90px;font-size:23px;line-height:26.00px;color:#0f1f40;-webkit-text-stroke:0.4px #fff;transform:scaleX(0.9680)">більше </span><span class="t" style="left:1628.80px;top:1076.90px;font-size:23px;line-height:26.00px;color:#0f1f40;-webkit-text-stroke:0.4px #fff;transform:scaleX(0.8764)">та </span><span class="t" style="left:1655.80px;top:1076.90px;font-size:23px;line-height:26.00px;color:#0f1f40;-webkit-text-stroke:0.4px #fff;transform:scaleX(0.9767)">лише </span><span class="t" style="left:1717.80px;top:1076.90px;font-size:23px;line-height:26.00px;color:#0f1f40;-webkit-text-stroke:0.4px #fff;transform:scaleX(1.0385)">до </span><span class="t" style="left:1750.80px;top:1076.90px;font-size:23px;line-height:26.00px;color:#0f1f40;-webkit-text-stroke:0.4px #fff;transform:scaleX(0.9811)">31.07.2020)</span></p></section>
<footer><div class="page-number"><span class="t" style="left:1940.53px;top:1082.80px;font-size:21.4px;line-height:24.00px;color:#8a8a8a;transform:scaleX(0.9750)">1</span></div></footer>
<svg width="2000" height="1125" viewBox="0 0 2000 1125" style="pointer-events:none">
  <g stroke="#fff" stroke-width="0.95" fill="none">
    <path d="M106 20.5 L124.4 38.9 M106 24.3 L121.7 40 M106 28.1 L117.9 40 M106 31.9 L114.1 40"/>
  </g>
</svg>
</body>
</html>
